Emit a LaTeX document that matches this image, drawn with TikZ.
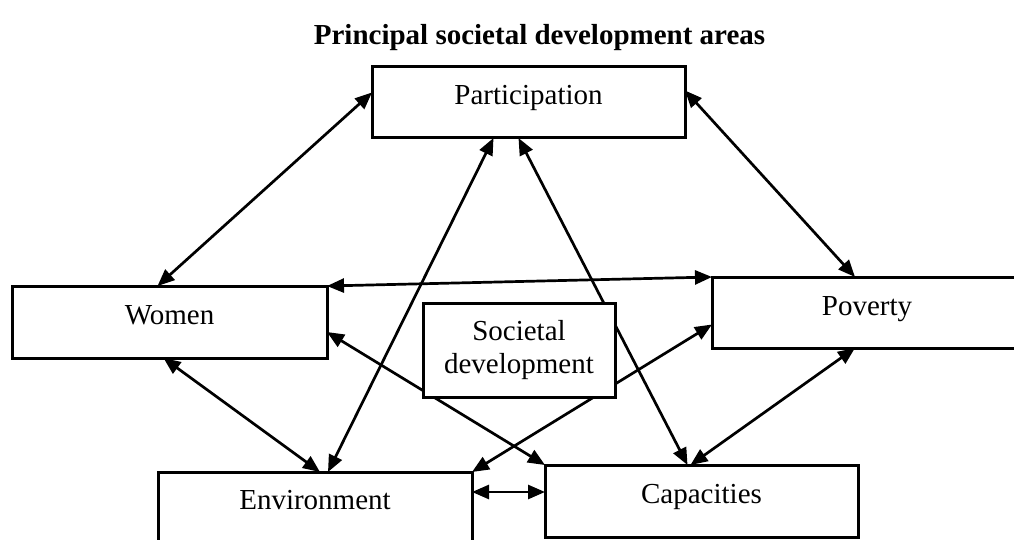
\documentclass[tikz,border=0pt]{standalone}
\usepackage{fontspec}
\setmainfont{Liberation Serif}
\usetikzlibrary{arrows.meta, positioning}

\begin{document}
\begin{tikzpicture}[x=1pt, y=-1pt,
    area/.style={draw, rectangle, line width=3pt, outer sep=0pt, inner sep=0pt, align=center, font=\fontsize{29}{33}\selectfont},
    single/.style={area, text height=20pt, text depth=15pt},
    link/.style={<->, line width=2.7pt, >={Triangle[length=17pt, width=14pt]}}]
    \useasboundingbox (0,0) rectangle (1014,540);

    % Participation
    \node[single, minimum width=313pt, minimum height=71pt] (participation) at (528.5,102.5) {Participation};

    % Title over the top box
    \node[font=\fontsize{29}{33}\selectfont\bfseries, inner sep=0pt, above=16pt of participation, xshift=11pt] (title) {Principal societal development areas};

    % Women
    \node[single, minimum width=315pt, minimum height=72pt] (women) at (169.5,322) {Women};

    % Poverty
    \node[single, minimum width=310pt, minimum height=71pt] (poverty) at (867,312.5) {Poverty};

    % Environment
    \node[single, minimum width=314pt, minimum height=70pt] (environment) at (315,507) {Environment};

    % Capacities
    \node[single, minimum width=313pt, minimum height=72pt] (capacities) at (701.5,501) {Capacities};

    % Links between the areas
    \draw[link] ([xshift=-12pt]women.north) -- ([yshift=10pt]participation.west);
    \draw[link] ([yshift=12pt]participation.east) -- ([xshift=-12pt]poverty.north);
    \draw[link] ([xshift=-35pt]participation.south) -- ([xshift=13pt]environment.north);
    \draw[link] ([xshift=-10pt]participation.south) -- ([xshift=-14pt]capacities.north);
    \draw[link] (women.north east) -- (poverty.north west);
    \draw[link] ([yshift=-10pt]women.east) -- (capacities.north west);
    \draw[link] ([yshift=-12pt]poverty.west) -- (environment.north east);
    \draw[link] ([xshift=-6pt]women.south) -- ([xshift=5pt]environment.north);
    \draw[link] ([xshift=-12pt]poverty.south) -- ([xshift=-11pt]capacities.north);
    \draw[link] ([yshift=15pt]environment.east) -- ([yshift=9pt]capacities.west);

    % Societal development, drawn last so the crossing links pass behind it
    \node[area, fill=white, minimum width=192pt, minimum height=94pt] (societal) at (519,350) {Societal\\development};
\end{tikzpicture}
\end{document}
